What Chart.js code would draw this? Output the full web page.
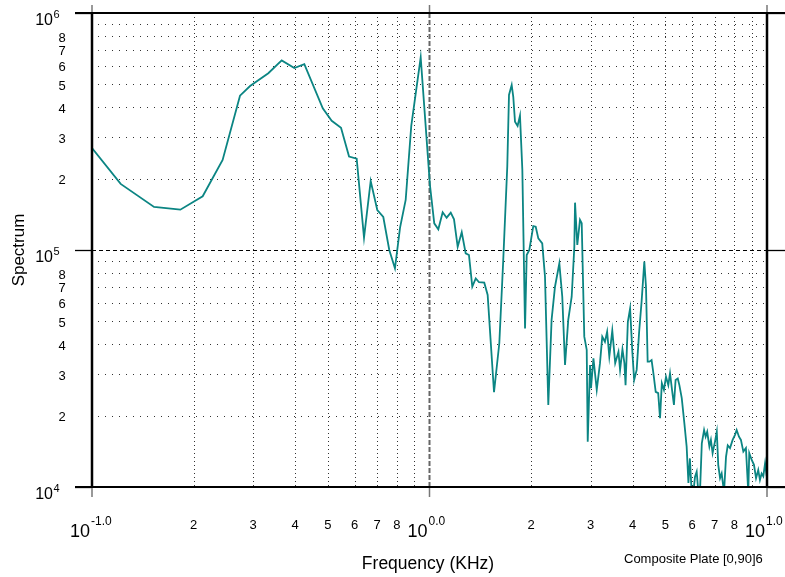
<!DOCTYPE html>
<html>
<head>
<meta charset="utf-8">
<script src="https://cdn.jsdelivr.net/npm/chart.js@4/dist/chart.umd.min.js"></script>
<style>
  body { margin: 0; background: #fff; }
  canvas { display: block; }
</style>
</head>
<body>
<canvas id="spectrumChart" width="785" height="577"></canvas>
<script>
// Frequency (KHz)
const freqKHz = [
  0.1, 0.1216, 0.1527, 0.1827, 0.2128, 0.2438, 0.2745, 0.294, 0.333, 0.3648,
  0.3976, 0.4257, 0.4828, 0.5131, 0.5468, 0.5776, 0.6085, 0.6397, 0.6695, 0.7003,
  0.7296, 0.760, 0.790, 0.818, 0.850, 0.883, 0.9417, 1.003, 1.033, 1.062,
  1.094, 1.124, 1.156, 1.182, 1.212, 1.246, 1.28, 1.309, 1.339, 1.371,
  1.402, 1.453, 1.487, 1.553, 1.610, 1.654, 1.700, 1.720, 1.752, 1.771,
  1.792, 1.824, 1.854, 1.884, 1.919, 1.941, 1.976, 2.03, 2.064, 2.101,
  2.158, 2.199, 2.249, 2.30, 2.354, 2.425, 2.474, 2.521, 2.577, 2.638,
  2.686, 2.699, 2.741, 2.792, 2.825, 2.875, 2.923, 2.943, 2.99, 3.01,
  3.06, 3.13, 3.20, 3.25, 3.31, 3.36, 3.41, 3.48, 3.55, 3.63,
  3.67, 3.73, 3.78, 3.81, 3.87, 3.93, 3.99, 4.04, 4.11, 4.18,
  4.25, 4.33, 4.38, 4.43, 4.48, 4.55, 4.60, 4.68, 4.76, 4.82,
  4.88, 4.95, 5.02, 5.10, 5.16, 5.24, 5.30, 5.36, 5.44, 5.50,
  5.59, 5.69, 5.78, 5.85, 5.91, 5.98, 6.05, 6.12, 6.19, 6.26,
  6.33, 6.41, 6.51, 6.58, 6.65, 6.75, 6.82, 6.90, 7.01, 7.10,
  7.17, 7.26, 7.34, 7.46, 7.56, 7.65, 7.77, 7.91, 8.04, 8.13,
  8.26, 8.37, 8.51, 8.66, 8.80, 8.86, 9.01, 9.15, 9.28, 9.42,
  9.53, 9.64, 9.75, 9.87, 9.98
];

// Spectrum values, same order
const spectrum = [
  2.69e5, 1.90e5, 1.52e5, 1.48e5, 1.685e5, 2.40e5, 4.48e5, 4.92e5, 5.57e5, 6.31e5,
  5.86e5, 6.08e5, 3.96e5, 3.51e5, 3.28e5, 2.48e5, 2.43e5, 1.127e5, 1.955e5, 1.475e5,
  1.378e5, 1.0e5, 8.37e4, 1.242e5, 1.626e5, 3.34e5, 6.50e5, 1.88e5, 1.296e5, 1.223e5,
  1.442e5, 1.369e5, 1.437e5, 1.347e5, 1.032e5, 1.188e5, 9.68e4, 9.52e4, 7.0e4, 7.59e4,
  7.31e4, 7.28e4, 6.46e4, 2.51e4, 4.04e4, 9.07e4, 2.25e5, 4.51e5, 4.97e5, 4.43e5,
  3.48e5, 3.34e5, 3.69e5, 2.18e5, 4.67e4, 9.53e4, 1.0e5, 1.262e5, 1.254e5, 1.12e5,
  1.067e5, 7.71e4, 2.22e4, 5.07e4, 7.0e4, 8.78e4, 6.35e4, 3.27e4, 5.07e4, 6.35e4,
  1.03e5, 1.584e5, 1.05e5, 1.339e5, 1.296e5, 4.31e4, 3.79e4, 1.553e4, 3.27e4, 2.61e4,
  3.49e4, 2.57e4, 3.33e4, 4.31e4, 4.10e4, 4.52e4, 3.55e4, 4.57e4, 3.33e4, 3.72e4,
  3.12e4, 3.81e4, 3.33e4, 2.69e4, 4.98e4, 5.67e4, 3.72e4, 2.83e4, 3.12e4, 4.52e4,
  6.05e4, 8.93e4, 7.0e4, 3.38e4, 3.38e4, 3.43e4, 3.07e4, 2.52e4, 2.49e4, 1.95e4,
  2.74e4, 2.57e4, 2.92e4, 2.69e4, 3.02e4, 2.52e4, 2.22e4, 2.83e4, 2.87e4, 2.69e4,
  2.37e4, 1.86e4, 1.48e4, 1.04e4, 1.32e4, 9.5e3, 9.5e3, 1.105e4, 1.16e4, 9.5e3,
  9.5e3, 1.53e4, 1.74e4, 1.63e4, 1.71e4, 1.48e4, 1.58e4, 1.39e4, 1.55e4, 1.71e4,
  1.24e4, 1.09e4, 1.14e4, 9.5e3, 1.34e4, 1.50e4, 1.46e4, 1.58e4, 1.66e4, 1.74e4,
  1.63e4, 1.58e4, 1.41e4, 1.46e4, 9.5e3, 1.39e4, 1.30e4, 1.24e4, 1.09e4, 1.18e4,
  1.07e4, 1.14e4, 1.11e4, 1.26e4, 1.11e4
];

// Axis ticks
const xDecades = [0.1, 1, 10];
const xDecadeExps = ['-1.0', '0.0', '1.0'];
const yDecades = [1e4, 1e5, 1e6];
const yDecadeExps = ['4', '5', '6'];
const gridDigits = [2, 3, 4, 5, 6, 7, 8, 9];
const labelDigits = [2, 3, 4, 5, 6, 7, 8];

const FONT = "'Liberation Sans', Arial, sans-serif";

// grid, frame and labels drawn from the scales
const framePlugin = {
  id: 'framePlugin',
  beforeDatasetsDraw(chart) {
    const { ctx, chartArea: a, scales: { x, y } } = chart;
    ctx.save();
    ctx.lineWidth = 1;
    ctx.strokeStyle = '#333';

    // minor grid, dotted
    ctx.setLineDash([1, 6]);
    yDecades.slice(0, -1).forEach(d => {
      gridDigits.forEach(k => {
        const py = Math.round(y.getPixelForValue(d * k)) + 0.5;
        ctx.beginPath(); ctx.moveTo(a.left + 6, py); ctx.lineTo(a.right, py); ctx.stroke();
      });
    });
    ctx.setLineDash([1, 3]);
    xDecades.slice(0, -1).forEach(d => {
      gridDigits.forEach(k => {
        const px = Math.round(x.getPixelForValue(d * k)) + 0.5;
        ctx.beginPath(); ctx.moveTo(px, a.top); ctx.lineTo(px, a.bottom); ctx.stroke();
      });
    });

    // middle decade lines, dashed
    const pyMid = Math.round(y.getPixelForValue(yDecades[1])) + 0.5;
    ctx.strokeStyle = '#000';
    ctx.lineWidth = 1.2;
    ctx.setLineDash([4, 3]);
    ctx.beginPath(); ctx.moveTo(a.left, pyMid); ctx.lineTo(a.right, pyMid); ctx.stroke();

    const pxMid = x.getPixelForValue(xDecades[1]);
    ctx.strokeStyle = '#666';
    ctx.lineWidth = 2;
    ctx.setLineDash([5, 2]);
    ctx.beginPath(); ctx.moveTo(pxMid, a.top); ctx.lineTo(pxMid, a.bottom); ctx.stroke();
    ctx.restore();
  },
  afterDatasetsDraw(chart) {
    const { ctx, chartArea: a, scales: { x, y } } = chart;
    ctx.save();
    ctx.setLineDash([]);

    // outer ticks on decades
    ctx.strokeStyle = '#000';
    ctx.lineWidth = 1.3;
    yDecades.forEach(v => {
      const py = Math.round(y.getPixelForValue(v)) + 0.5;
      ctx.beginPath(); ctx.moveTo(a.left - 17, py); ctx.lineTo(a.left, py); ctx.stroke();
      ctx.beginPath(); ctx.moveTo(a.right, py); ctx.lineTo(a.right + 18, py); ctx.stroke();
    });
    ctx.strokeStyle = '#777';
    ctx.lineWidth = 1.5;
    xDecades.forEach(v => {
      const px = x.getPixelForValue(v);
      ctx.beginPath(); ctx.moveTo(px, a.bottom); ctx.lineTo(px, a.bottom + 10); ctx.stroke();
      ctx.beginPath(); ctx.moveTo(px, a.top); ctx.lineTo(px, a.top - 8); ctx.stroke();
    });

    // frame
    ctx.strokeStyle = '#000';
    ctx.lineWidth = 2;
    ctx.beginPath(); ctx.moveTo(a.left - 17, a.top); ctx.lineTo(a.right + 18, a.top); ctx.stroke();
    ctx.beginPath(); ctx.moveTo(a.left - 17, a.bottom); ctx.lineTo(a.right + 18, a.bottom); ctx.stroke();
    ctx.lineWidth = 2.5;
    ctx.beginPath(); ctx.moveTo(a.left, a.top); ctx.lineTo(a.left, a.bottom); ctx.stroke();
    ctx.beginPath(); ctx.moveTo(a.right, a.top); ctx.lineTo(a.right, a.bottom); ctx.stroke();

    ctx.fillStyle = '#000';

    // y labels
    yDecades.forEach((v, i) => {
      const py = y.getPixelForValue(v);
      ctx.font = '16px ' + FONT;
      ctx.textAlign = 'right';
      ctx.textBaseline = 'alphabetic';
      ctx.fillText('10', 53, py + 12);
      ctx.font = '11px ' + FONT;
      ctx.textAlign = 'left';
      ctx.fillText(yDecadeExps[i], 53.5, py + 5);
    });
    ctx.font = '13px ' + FONT;
    ctx.textAlign = 'center';
    ctx.textBaseline = 'middle';
    yDecades.slice(0, -1).forEach(d => {
      labelDigits.forEach(k => {
        ctx.fillText(String(k), 62, y.getPixelForValue(d * k) + 2);
      });
    });

    // x labels
    ctx.textBaseline = 'alphabetic';
    xDecades.forEach(d => {
      if (d < xDecades[xDecades.length - 1]) {
        labelDigits.forEach(k => {
          ctx.fillText(String(k), x.getPixelForValue(d * k), 529);
        });
      }
    });
    xDecades.forEach((v, i) => {
      const px = x.getPixelForValue(v);
      ctx.font = '18px ' + FONT;
      ctx.textAlign = 'right';
      ctx.fillText('10', px - 2, 537);
      ctx.font = '12px ' + FONT;
      ctx.textAlign = 'left';
      ctx.fillText(xDecadeExps[i], px - 1, 525);
      ctx.font = '13px ' + FONT;
      ctx.textAlign = 'center';
    });

    // titles
    ctx.font = '17.5px ' + FONT;
    ctx.textAlign = 'center';
    ctx.fillText('Frequency (KHz)', 428, 569);
    ctx.font = '13px ' + FONT;
    ctx.textAlign = 'left';
    ctx.fillText('Composite Plate [0,90]6', 624, 563);
    ctx.save();
    ctx.translate(24, 250);
    ctx.rotate(-Math.PI / 2);
    ctx.font = '17px ' + FONT;
    ctx.textAlign = 'center';
    ctx.fillText('Spectrum', 0, 0);
    ctx.restore();

    ctx.restore();
  }
};

const ctx = document.getElementById('spectrumChart').getContext('2d');
new Chart(ctx, {
  type: 'scatter',
  data: {
    datasets: [{
      label: 'Spectrum',
      data: freqKHz.map((f, i) => ({ x: f, y: spectrum[i] })),
      showLine: true,
      borderColor: '#0b8583',
      borderWidth: 1.8,
      pointRadius: 0,
      tension: 0
    }]
  },
  options: {
    responsive: false,
    animation: false,
    devicePixelRatio: 1,
    layout: { padding: { left: 92, right: 18, top: 13, bottom: 90 } },
    plugins: { legend: { display: false }, tooltip: { enabled: false } },
    scales: {
      x: { type: 'logarithmic', min: 0.1, max: 10, display: false },
      y: { type: 'logarithmic', min: 1e4, max: 1e6, display: false }
    }
  },
  plugins: [framePlugin]
});
</script>
</body>
</html>
